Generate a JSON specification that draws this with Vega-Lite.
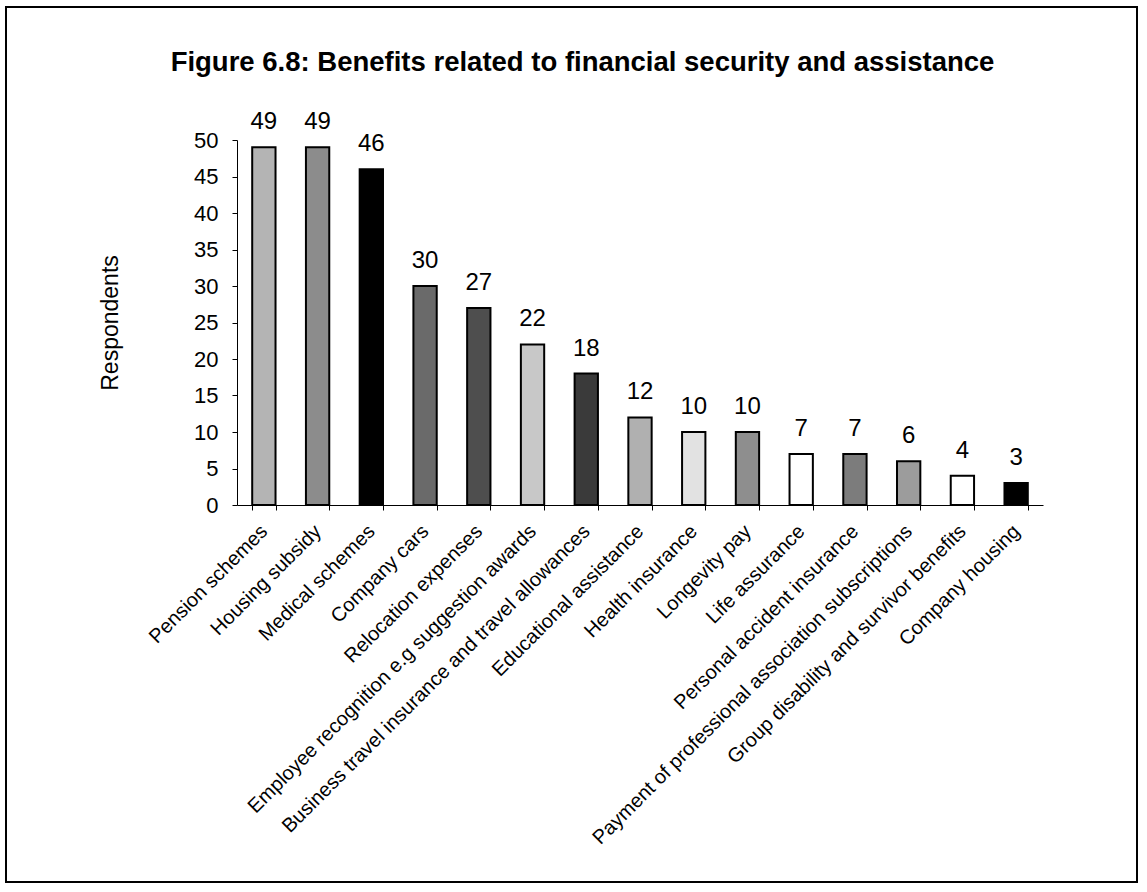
{
  "$schema": "https://vega.github.io/schema/vega-lite/v6.json",
  "width": 1131,
  "height": 875,
  "autosize": {"type": "none"},
  "padding": {"left": 6, "top": 7, "right": 10, "bottom": 10},
  "background": "white",
  "config": {
    "view": {"stroke": "black", "strokeWidth": 2},
    "font": "Liberation Sans"
  },
  "title": {
    "text": "Figure 6.8: Benefits related to financial security and assistance",
    "anchor": "middle",
    "frame": "group",
    "offset": -91,
    "baseline": "alphabetic",
    "fontSize": 27.5,
    "fontWeight": "bold",
    "font": "Liberation Sans",
    "color": "black",
    "dx": 11
  },
  "data": {
    "values": [
      {"Benefit": "Pension schemes", "Respondents": 49},
      {"Benefit": "Housing subsidy", "Respondents": 49},
      {"Benefit": "Medical schemes", "Respondents": 46},
      {"Benefit": "Company cars", "Respondents": 30},
      {"Benefit": "Relocation expenses", "Respondents": 27},
      {"Benefit": "Employee recognition e.g suggestion awards", "Respondents": 22},
      {"Benefit": "Business travel insurance and travel allowances", "Respondents": 18},
      {"Benefit": "Educational assistance", "Respondents": 12},
      {"Benefit": "Health insurance", "Respondents": 10},
      {"Benefit": "Longevity pay", "Respondents": 10},
      {"Benefit": "Life assurance", "Respondents": 7},
      {"Benefit": "Personal accident insurance", "Respondents": 7},
      {"Benefit": "Payment of professional association subscriptions", "Respondents": 6},
      {"Benefit": "Group disability and survivor benefits", "Respondents": 4},
      {"Benefit": "Company housing", "Respondents": 3}
    ]
  },
  "encoding": {
    "x": {
      "field": "Benefit",
      "type": "nominal",
      "sort": null,
      "scale": {"range": [231, 1037], "paddingInner": 0.566, "paddingOuter": 0.283},
      "axis": {
        "title": null,
        "orient": "bottom",
        "offset": -377,
        "tickBand": "extent",
        "tickSize": 5,
        "tickColor": "black",
        "domainColor": "black",
        "domainWidth": 1,
        "labelAngle": -45,
        "labelAlign": "right",
        "labelBaseline": "middle",
        "labelPadding": 18,
        "labelFontSize": 20,
        "labelColor": "black",
        "labelFont": "Liberation Sans",
        "labelLimit": 0,
        "labelOverlap": false,
        "grid": false
      }
    },
    "y": {
      "field": "Respondents",
      "type": "quantitative",
      "scale": {"domain": [0, 50], "range": [498, 133], "nice": false},
      "axis": {
        "title": "Respondents",
        "orient": "left",
        "offset": -231,
        "values": [0, 5, 10, 15, 20, 25, 30, 35, 40, 45, 50],
        "tickSize": 5,
        "tickColor": "black",
        "domainColor": "black",
        "domainWidth": 1,
        "labelPadding": 14,
        "labelFontSize": 22,
        "labelColor": "black",
        "labelFont": "Liberation Sans",
        "grid": false,
        "titleX": -127,
        "titleY": 315.5,
        "titleAngle": -90,
        "titleAlign": "center",
        "titleBaseline": "middle",
        "titleFontSize": 23,
        "titleFontWeight": "normal",
        "titleFont": "Liberation Sans",
        "titleColor": "black"
      }
    }
  },
  "layer": [
    {
      "mark": {"type": "bar", "stroke": "black", "strokeWidth": 2},
      "encoding": {
        "color": {
          "field": "Benefit",
          "type": "nominal",
          "legend": null,
          "scale": {
            "domain": [
              "Pension schemes", "Housing subsidy", "Medical schemes", "Company cars", "Relocation expenses",
              "Employee recognition e.g suggestion awards", "Business travel insurance and travel allowances",
              "Educational assistance", "Health insurance", "Longevity pay", "Life assurance",
              "Personal accident insurance", "Payment of professional association subscriptions",
              "Group disability and survivor benefits", "Company housing"
            ],
            "range": [
              "#b4b4b4", "#8c8c8c", "#000000", "#6a6a6a", "#4e4e4e",
              "#c8c8c8", "#3a3a3a", "#b0b0b0", "#e2e2e2", "#8e8e8e",
              "#ffffff", "#7c7c7c", "#9c9c9c", "#ffffff", "#000000"
            ]
          }
        }
      }
    },
    {
      "mark": {"type": "text", "baseline": "alphabetic", "align": "center", "dy": -18, "fontSize": 24, "font": "Liberation Sans", "color": "black"},
      "encoding": {
        "text": {"field": "Respondents", "type": "quantitative"}
      }
    }
  ]
}
